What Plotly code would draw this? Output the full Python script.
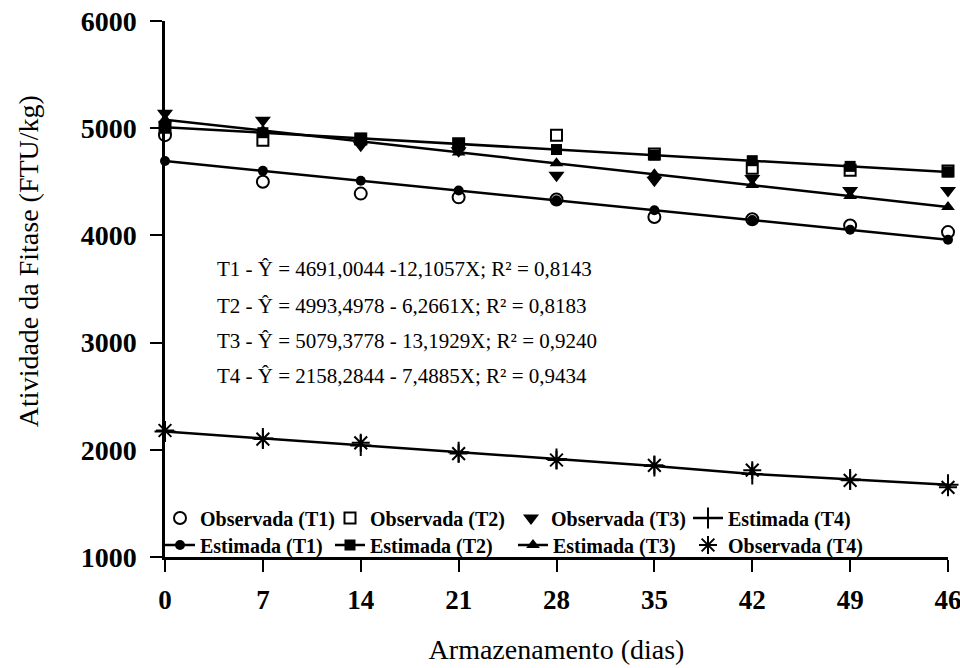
import plotly.graph_objects as go

days = [0, 7, 14, 21, 28, 35, 42, 49, 56]
day_labels = ["0", "7", "14", "21", "28", "35", "42", "49", "46"]

obs_T1 = [4935, 4500, 4390, 4355, 4335, 4171, 4150, 4093, 4031]
est_T1 = [4694, 4602, 4510, 4419, 4327, 4235, 4144, 4052, 3960]
obs_T2 = [5010, 4888, 4900, 4855, 4935, 4760, 4626, 4607, 4600]
est_T2 = [5010, 4958, 4906, 4853, 4801, 4749, 4697, 4644, 4592]
obs_T3 = [5140, 5075, 4841, 4790, 4561, 4515, 4530, 4420, 4420]
est_T3 = [5080, 4978, 4876, 4774, 4672, 4571, 4469, 4367, 4265]
obs_T4 = [2180, 2100, 2065, 1965, 1905, 1855, 1810, 1715, 1650]
est_T4 = [2170, 2106, 2040, 1978, 1914, 1850, 1775, 1722, 1675]

equations = [
    "T1 - Ŷ = 4691,0044 -12,1057X; R² = 0,8143",
    "T2 - Ŷ = 4993,4978 - 6,2661X; R² = 0,8183",
    "T3 - Ŷ = 5079,3778 - 13,1929X; R² = 0,9240",
    "T4 - Ŷ = 2158,2844 - 7,4885X; R² = 0,9434",
]
eq_y = [3685, 3345, 3015, 2685]

SERIF = "Liberation Serif, Times New Roman, serif"
BLACK = "black"

# plot area geometry (pixels)
L, R, T, B = 165, 12, 21, 111
PW = 960 - L - R
PH = 668 - T - B

fig = go.Figure()

# legend slots: (legend id, left x px, row center y px)
slots = {
    "Observada (T1)": ("legend", 160, 518),
    "Observada (T2)": ("legend2", 330, 518),
    "Observada (T3)": ("legend3", 511, 518),
    "Estimada (T4)": ("legend4", 688, 518),
    "Estimada (T1)": ("legend5", 160, 545),
    "Estimada (T2)": ("legend6", 330, 545),
    "Estimada (T3)": ("legend7", 513, 545),
    "Observada (T4)": ("legend8", 688, 545),
}

def add(name, y, mode, symbol, size, lw=2):
    fig.add_trace(go.Scatter(
        x=days, y=y, name=name, mode=mode,
        line=dict(color=BLACK, width=2.5),
        marker=dict(symbol=symbol, size=size, color=BLACK,
                    line=dict(color=BLACK, width=lw)),
        legend=slots[name][0], cliponaxis=False,
    ))

add("Observada (T1)", obs_T1, "markers", "circle-open", 12)
add("Observada (T2)", obs_T2, "markers", "square-open", 11)
add("Observada (T3)", obs_T3, "markers", "triangle-down", 14, lw=0)
add("Observada (T4)", obs_T4, "markers", "asterisk-open", 15)
add("Estimada (T1)", est_T1, "lines+markers", "circle", 10, lw=0)
add("Estimada (T2)", est_T2, "lines+markers", "square", 11, lw=0)
add("Estimada (T3)", est_T3, "lines+markers", "triangle-up", 12, lw=0)
add("Estimada (T4)", est_T4, "lines+markers", "cross-thin-open", 15)

for txt, yy in zip(equations, eq_y):
    fig.add_annotation(x=0, y=yy, xref="paper", yref="y", text=txt,
                       showarrow=False, xanchor="left", yanchor="middle",
                       xshift=50,
                       font=dict(family=SERIF, size=21, color=BLACK))

# y-axis title placed as rotated annotation
fig.add_annotation(x=0, y=3760, xref="paper", yref="y",
                   text="Atividade da Fitase (FTU/kg)", textangle=-90,
                   showarrow=False, xanchor="center", yanchor="middle",
                   xshift=28 - L,
                   font=dict(family=SERIF, size=28, color=BLACK))

legend_layouts = {}
for name, (lid, px, py) in slots.items():
    legend_layouts[lid] = dict(
        orientation="h", xanchor="left", yanchor="middle",
        x=(px - L) / PW, y=(668 - B - py) / PH,
        bgcolor="rgba(0,0,0,0)", borderwidth=0,
        font=dict(family=SERIF, size=20, color=BLACK, weight="bold"),
        itemwidth=30,
    )

fig.update_layout(
    width=960, height=668,
    margin=dict(l=L, r=R, t=T, b=B),
    paper_bgcolor="white", plot_bgcolor="white",
    showlegend=True,
    xaxis=dict(
        range=[0, 56], tickvals=days, ticktext=day_labels,
        showline=True, linecolor=BLACK, linewidth=2.5,
        ticks="outside", ticklen=12, tickwidth=2, tickcolor=BLACK,
        showgrid=False, zeroline=False, automargin=False,
        tickfont=dict(family=SERIF, size=27, color=BLACK, weight="bold"),
        ticklabelstandoff=5, ticklabeloverflow="allow",
        title=dict(text="Armazenamento (dias)", standoff=26,
                   font=dict(family=SERIF, size=28, color=BLACK)),
    ),
    yaxis=dict(
        range=[1000, 6000], tickvals=[1000, 2000, 3000, 4000, 5000, 6000],
        showline=True, linecolor=BLACK, linewidth=2.5,
        ticks="outside", ticklen=12, tickwidth=2, tickcolor=BLACK,
        showgrid=False, zeroline=False, automargin=False,
        tickfont=dict(family=SERIF, size=28, color=BLACK, weight="bold"),
        ticklabelstandoff=8, ticklabeloverflow="allow",
    ),
    **legend_layouts,
)

fig.write_html("out.html",
               config={"displayModeBar": False},
               post_script="document.body.style.margin='0';"
                           "document.body.style.overflow='hidden';")
